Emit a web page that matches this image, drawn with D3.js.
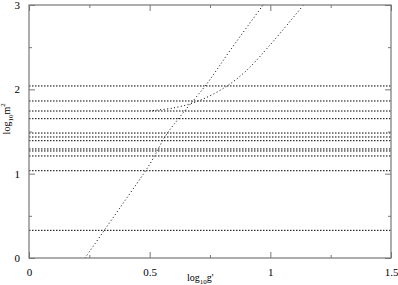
<!DOCTYPE html>
<html>
<head>
<meta charset="utf-8">
<script src="https://cdn.jsdelivr.net/npm/d3@7"></script>
<style>
  body { margin: 0; background: #fff; }
  text { font-family: "Liberation Serif", "DejaVu Serif", serif; }
</style>
</head>
<body>
<div id="chart"></div>
<script>
// levels (log10 m^2) of the flat lines
var levels = [2.04, 1.862, 1.743, 1.652, 1.482, 1.435, 1.391, 1.293, 1.269, 1.21, 1.035, 0.328];

// steep line
var lineAx = [0.232, 0.378, 0.502, 0.564, 0.627, 0.738, 0.833, 0.97];
var lineAy = [0.0, 0.6, 1.12, 1.44, 1.68, 2.07, 2.46, 3.0];

// bending curve
var curveBx = [0.5, 0.6, 0.7, 0.81, 0.9, 1.0, 1.1, 1.14];
var curveBy = [1.745, 1.78, 1.86, 2.02, 2.22, 2.53, 2.87, 3.01];

var xTicks = [0, 0.5, 1, 1.5];
var xMinor = [0.25, 0.75, 1.25];
var yTicks = [0, 1, 2, 3];
var yMinor = [0.5, 1.5, 2.5];

var svgWidth = 398;
var svgHeight = 285;
var margin = { top: 5, right: 7, bottom: 27, left: 29 };
var width = svgWidth - margin.left - margin.right;
var height = svgHeight - margin.top - margin.bottom;

var svg = d3.select("#chart")
    .append("svg")
    .attr("width", svgWidth)
    .attr("height", svgHeight);

var chartGroup = svg.append("g")
    .attr("transform", `translate(${margin.left}, ${margin.top})`);

var x = d3.scaleLinear().domain([0, 1.5]).range([0, width]);
var y = d3.scaleLinear().domain([0, 3]).range([height, 0]);

// clip so the curves stop at the frame
chartGroup.append("clipPath").attr("id", "clip")
    .append("rect").attr("width", width).attr("height", height);

var plot = chartGroup.append("g").attr("clip-path", "url(#clip)");

// flat dotted lines
plot.selectAll("line.level")
    .data(levels)
    .enter()
    .append("line")
    .attr("class", "level")
    .attr("x1", x(0))
    .attr("x2", x(1.5))
    .attr("y1", d => y(d))
    .attr("y2", d => y(d))
    .attr("stroke", "#000")
    .attr("stroke-width", 1)
    .attr("stroke-dasharray", "1.5,1.5");

var line = d3.line()
    .x(d => x(d[0]))
    .y(d => y(d[1]))
    .curve(d3.curveCatmullRom);

plot.append("path")
    .datum(lineAx.map((v, i) => [v, lineAy[i]]))
    .attr("d", line)
    .attr("fill", "none")
    .attr("stroke", "#000")
    .attr("stroke-width", 1)
    .attr("stroke-dasharray", "1,2.5");

plot.append("path")
    .datum(curveBx.map((v, i) => [v, curveBy[i]]))
    .attr("d", line)
    .attr("fill", "none")
    .attr("stroke", "#000")
    .attr("stroke-width", 1)
    .attr("stroke-dasharray", "1,2.5");

// axes, ticks pointing inwards on all four sides
var axisColor = "#777";

function styleAxis(g) {
    g.select(".domain").remove();
    g.selectAll("line").attr("stroke", axisColor);
    g.selectAll("text")
        .attr("fill", "#000")
        .style("font-size", "11px");
}

chartGroup.append("g")
    .attr("transform", `translate(0, ${height})`)
    .call(d3.axisBottom(x).tickValues(xTicks).tickSize(-6).tickPadding(10)
        .tickFormat(d3.format("")))
    .call(styleAxis);

chartGroup.append("g")
    .attr("transform", `translate(0, ${height})`)
    .call(d3.axisBottom(x).tickValues(xMinor).tickSize(-3).tickFormat(""))
    .call(styleAxis);

chartGroup.append("g")
    .call(d3.axisTop(x).tickValues(xTicks).tickSize(-6).tickFormat(""))
    .call(styleAxis);

chartGroup.append("g")
    .call(d3.axisTop(x).tickValues(xMinor).tickSize(-3).tickFormat(""))
    .call(styleAxis);

chartGroup.append("g")
    .call(d3.axisLeft(y).tickValues(yTicks).tickSize(-6).tickPadding(9)
        .tickFormat(d3.format("d")))
    .call(styleAxis);

chartGroup.append("g")
    .call(d3.axisLeft(y).tickValues(yMinor).tickSize(-3).tickFormat(""))
    .call(styleAxis);

chartGroup.append("g")
    .attr("transform", `translate(${width}, 0)`)
    .call(d3.axisRight(y).tickValues(yTicks).tickSize(-6).tickFormat(""))
    .call(styleAxis);

chartGroup.append("g")
    .attr("transform", `translate(${width}, 0)`)
    .call(d3.axisRight(y).tickValues(yMinor).tickSize(-3).tickFormat(""))
    .call(styleAxis);

// frame
chartGroup.append("rect")
    .attr("width", width)
    .attr("height", height)
    .attr("fill", "none")
    .attr("stroke", axisColor)
    .attr("stroke-width", 1.2);

// axis titles
var xTitle = chartGroup.append("text")
    .attr("transform", `translate(${x(0.71)}, ${height + 23})`)
    .attr("text-anchor", "middle")
    .style("font-size", "10px");
xTitle.append("tspan").text("log");
xTitle.append("tspan").attr("dy", 3).style("font-size", "7px").text("10");
xTitle.append("tspan").attr("dy", -3).text("g'");

var yTitle = chartGroup.append("text")
    .attr("transform", `translate(${-19}, ${y(1.65)}) rotate(-90)`)
    .attr("text-anchor", "middle")
    .style("font-size", "10px");
yTitle.append("tspan").text("log");
yTitle.append("tspan").attr("dy", 3).style("font-size", "7px").text("10");
yTitle.append("tspan").attr("dy", -3).text("m");
yTitle.append("tspan").attr("dy", -5).style("font-size", "7px").text("2");
</script>
</body>
</html>
